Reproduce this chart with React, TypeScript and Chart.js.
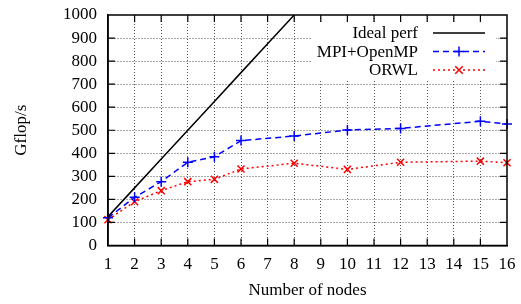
import React, { useEffect, useRef } from 'react';
import { Chart, registerables } from 'chart.js';

Chart.register(...registerables);

// ---- data ----
const idealNodes = [1, 2, 3, 4, 5, 6, 7, 8];
const idealPerf = [125, 250, 375, 500, 625, 750, 875, 1000];
const nodes = [1, 2, 3, 4, 5, 6, 8, 10, 12, 15, 16];
const mpiOpenmp = [120, 209, 277, 361, 385, 455, 475, 501, 508, 539, 527];
const orwl = [112, 190, 238, 277, 287, 332, 357, 330, 361, 366, 359];
const xTickValues = [1, 2, 3, 4, 5, 6, 7, 8, 9, 10, 11, 12, 13, 14, 15, 16];
const yTickValues = [0, 100, 200, 300, 400, 500, 600, 700, 800, 900, 1000];
const seriesLabels = ['Ideal perf', 'MPI+OpenMP', 'ORWL'];
const xTitle = 'Number of nodes';
const yTitle = 'Gflop/s';

const FONT_FAMILY = '"Liberation Serif", "Times New Roman", serif';
const FONT_SIZE = 17;

const gnuplotPlugin = {
  id: 'gnuplotDecor',
  beforeDatasetsDraw(chart: any) {
    const { ctx, chartArea } = chart;
    ctx.save();
    ctx.fillStyle = '#ffffff';
    ctx.fillRect(312, chartArea.top + 8, 184, 57);
    ctx.restore();
  },
  afterDatasetsDraw(chart: any) {
    const { ctx, chartArea, scales } = chart;
    const { left, right, top, bottom } = chartArea;
    const tl = 7;
    ctx.save();
    ctx.strokeStyle = '#000';
    ctx.lineWidth = 1.2;
    ctx.setLineDash([]);
    ctx.beginPath();
    xTickValues.forEach((v) => {
      const x = scales.x.getPixelForValue(v);
      if (x <= left + 1 || x >= right - 1) return;
      ctx.moveTo(x, bottom);
      ctx.lineTo(x, bottom - tl);
      ctx.moveTo(x, top);
      ctx.lineTo(x, top + tl);
    });
    yTickValues.forEach((v) => {
      const y = scales.y.getPixelForValue(v);
      if (y <= top + 1 || y >= bottom - 1) return;
      ctx.moveTo(left, y);
      ctx.lineTo(left + tl, y);
      ctx.moveTo(right, y);
      ctx.lineTo(right - tl, y);
    });
    ctx.stroke();
    ctx.lineWidth = 1.5;
    ctx.strokeRect(left, top, right - left, bottom - top);
    ctx.restore();
  },
  afterDraw(chart: any) {
    const { ctx } = chart;
    const textRight = 418;
    const x0 = 433;
    const x1 = 485;
    const rows = [33, 51.5, 70];
    ctx.save();
    ctx.font = `${FONT_SIZE}px ${FONT_FAMILY}`;
    ctx.textAlign = 'right';
    ctx.textBaseline = 'middle';
    chart.data.datasets.forEach((ds: any, i: number) => {
      const y = rows[i];
      ctx.fillStyle = '#000';
      ctx.fillText(ds.label, textRight, y + 1);
      ctx.strokeStyle = ds.borderColor;
      ctx.lineWidth = ds.borderWidth;
      ctx.setLineDash(ds.borderDash || []);
      ctx.beginPath();
      ctx.moveTo(x0, y);
      ctx.lineTo(x1, y);
      ctx.stroke();
      ctx.setLineDash([]);
      const cx = (x0 + x1) / 2;
      const r = 5;
      if (ds.pointStyle === 'cross') {
        ctx.beginPath();
        ctx.moveTo(cx - r, y);
        ctx.lineTo(cx + r, y);
        ctx.moveTo(cx, y - r);
        ctx.lineTo(cx, y + r);
        ctx.stroke();
      } else if (ds.pointStyle === 'crossRot') {
        const d = r * 0.75;
        ctx.beginPath();
        ctx.moveTo(cx - d, y - d);
        ctx.lineTo(cx + d, y + d);
        ctx.moveTo(cx - d, y + d);
        ctx.lineTo(cx + d, y - d);
        ctx.stroke();
      }
    });
    ctx.restore();
  },
};

const zeroPadding = (scale: any) => {
  scale.paddingTop = 0;
  scale.paddingBottom = 0;
  scale.paddingLeft = 0;
  scale.paddingRight = 0;
};

export default function App() {
  const canvasRef = useRef<HTMLCanvasElement | null>(null);

  useEffect(() => {
    document.body.style.margin = '0';
    const canvas = canvasRef.current;
    if (!canvas) return;
    const font = { family: FONT_FAMILY, size: FONT_SIZE };
    const chart = new Chart(canvas, {
      type: 'line',
      data: {
        datasets: [
          {
            label: seriesLabels[0],
            data: idealNodes.map((x, i) => ({ x, y: idealPerf[i] })),
            borderColor: '#000000',
            borderWidth: 1.5,
            pointRadius: 0,
            pointStyle: false as any,
            fill: false,
            tension: 0,
          },
          {
            label: seriesLabels[1],
            data: nodes.map((x, i) => ({ x, y: mpiOpenmp[i] })),
            borderColor: '#0000ff',
            backgroundColor: '#0000ff',
            borderWidth: 1.5,
            borderDash: [6, 4],
            pointStyle: 'cross',
            pointRadius: 5,
            pointBorderWidth: 1.5,
            pointBorderColor: '#0000ff',
            fill: false,
            tension: 0,
            clip: 8,
          },
          {
            label: seriesLabels[2],
            data: nodes.map((x, i) => ({ x, y: orwl[i] })),
            borderColor: '#ff0000',
            backgroundColor: '#ff0000',
            borderWidth: 1.5,
            borderDash: [2, 3],
            pointStyle: 'crossRot',
            pointRadius: 5,
            pointBorderWidth: 1.5,
            pointBorderColor: '#ff0000',
            fill: false,
            tension: 0,
            clip: 8,
          },
        ],
      },
      options: {
        responsive: false,
        animation: false,
        events: [],
        layout: { padding: { top: 15, right: 14, left: 0, bottom: 0 } },
        plugins: {
          legend: { display: false },
          tooltip: { enabled: false },
          title: { display: false },
        },
        scales: {
          x: {
            type: 'linear',
            min: 1,
            max: 16,
            afterBuildTicks: (scale: any) => {
              scale.ticks = xTickValues.map((v) => ({ value: v }));
            },
            ticks: {
              font,
              color: '#000',
              padding: 9,
              autoSkip: false,
              maxRotation: 0,
              callback: (v: any) => String(v),
            },
            grid: {
              color: (c: any) => (c.tick && (c.tick.value === 1 || c.tick.value === 16) ? 'rgba(0,0,0,0)' : '#555'),
              lineWidth: 1,
              drawTicks: false,
            },
            border: { display: true, color: '#000', width: 1.5, dash: [1, 2] } as any,
            title: { display: true, text: xTitle, font, color: '#000', padding: { top: 0, bottom: 3 } },
            afterFit: (scale: any) => {
              scale.height = 58.5;
              zeroPadding(scale);
            },
          },
          y: {
            type: 'linear',
            min: 0,
            max: 1000,
            afterBuildTicks: (scale: any) => {
              scale.ticks = yTickValues.map((v) => ({ value: v }));
            },
            ticks: {
              font,
              color: '#000',
              padding: 11,
              autoSkip: false,
              callback: (v: any) => String(v),
            },
            grid: {
              color: (c: any) => (c.tick && (c.tick.value === 0 || c.tick.value === 1000) ? 'rgba(0,0,0,0)' : '#555'),
              lineWidth: 1,
              drawTicks: false,
            },
            border: { display: true, color: '#000', width: 1.5, dash: [1, 2] } as any,
            title: { display: true, text: yTitle, font, color: '#000', padding: { top: 11, bottom: 0 } },
            afterFit: (scale: any) => {
              scale.width = 108;
              zeroPadding(scale);
            },
          },
        },
      } as any,
      plugins: [gnuplotPlugin],
    });
    return () => chart.destroy();
  }, []);

  return (
    <div style={{ width: 521, height: 304 }}>
      <canvas ref={canvasRef} width={521} height={304} style={{ display: 'block' }} />
    </div>
  );
}
